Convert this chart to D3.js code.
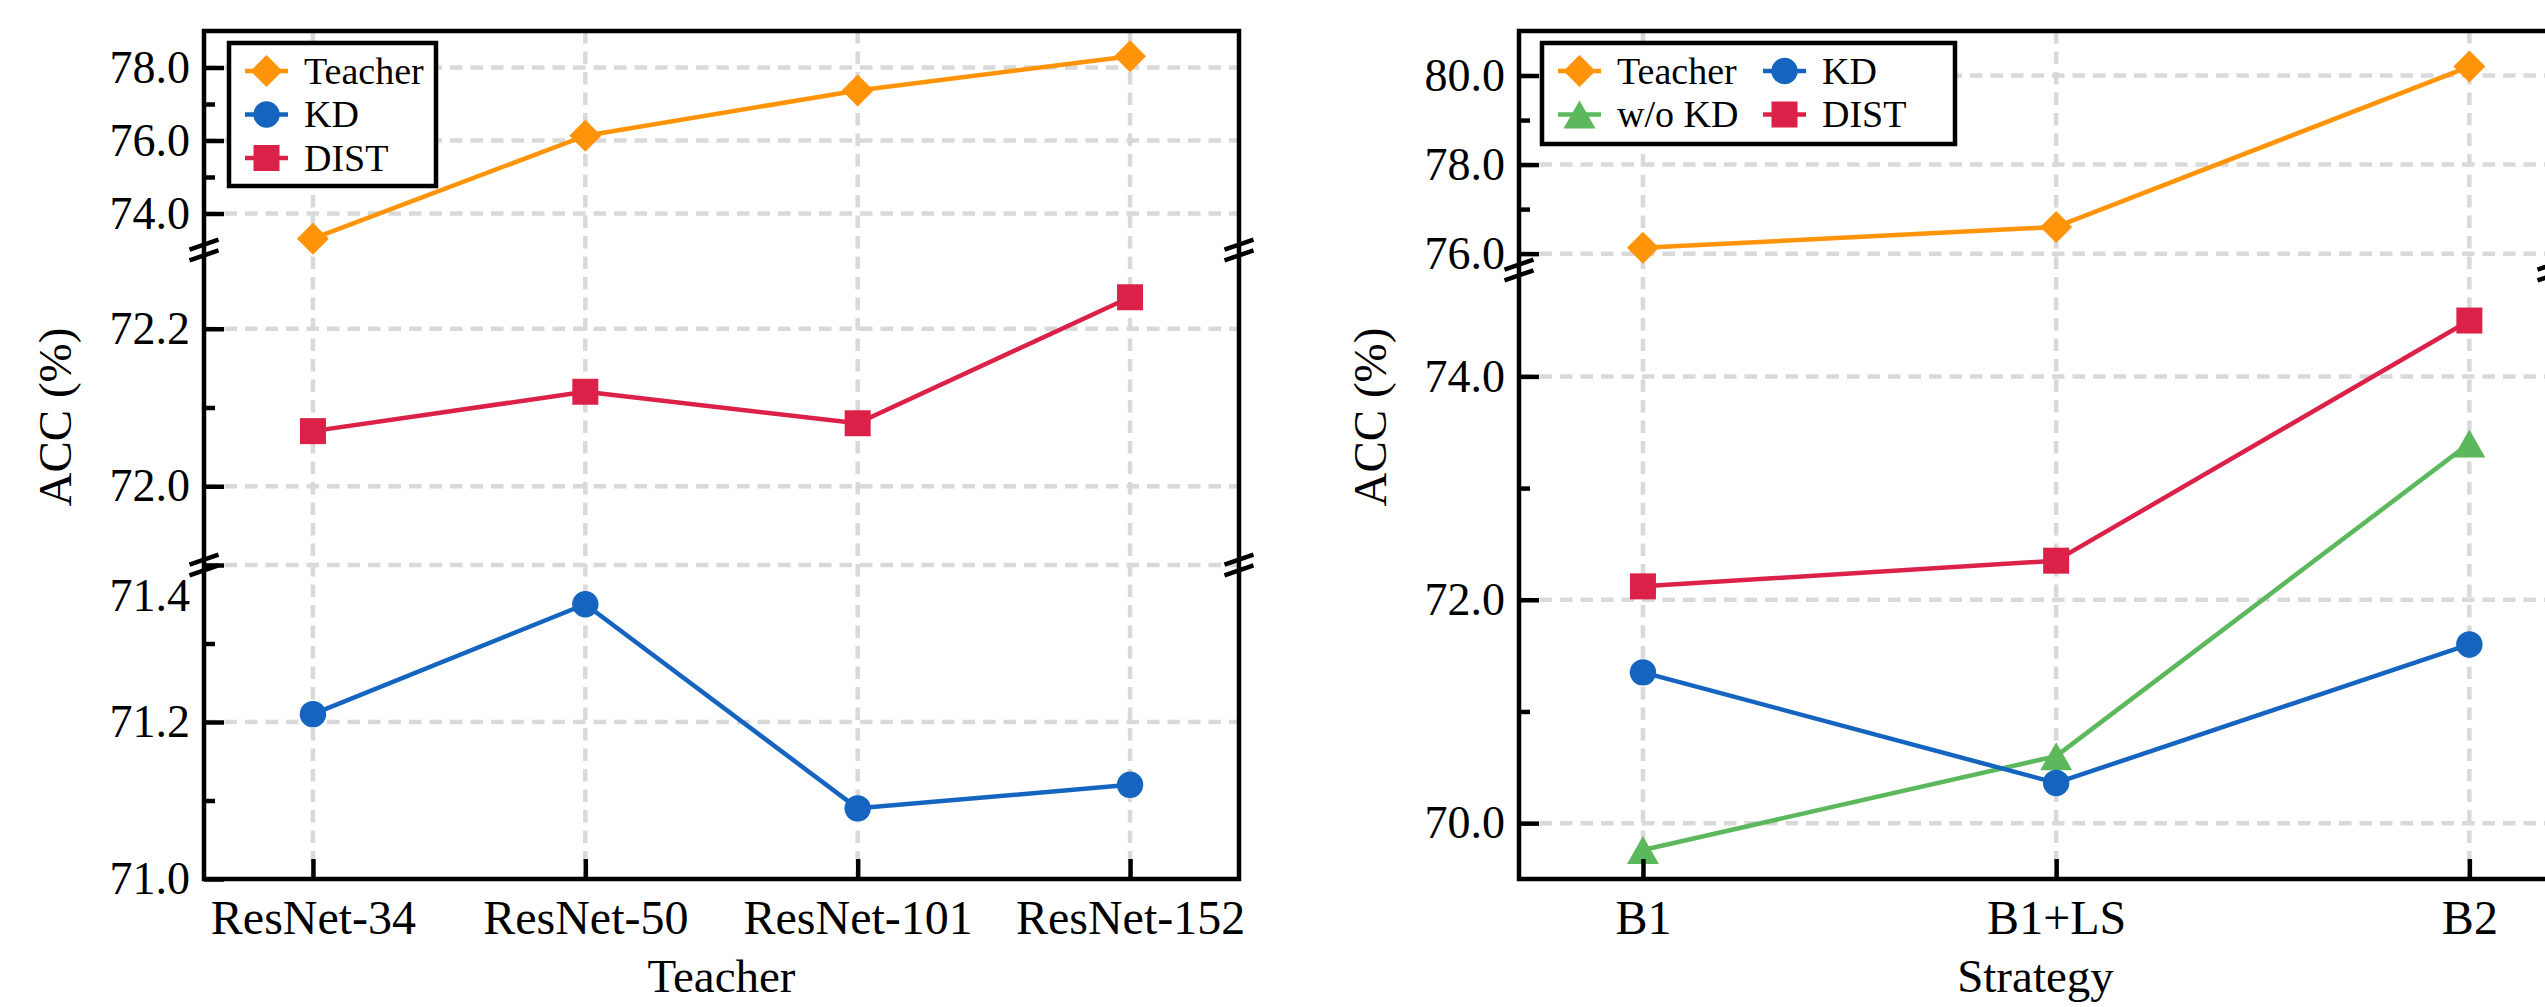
<!DOCTYPE html>
<html>
<head>
<meta charset="utf-8">
<title>ACC vs Teacher / Strategy</title>
<style>
  html, body { margin: 0; padding: 0; background: #fff; }
  svg { display: block; }
  text { font-family: "Liberation Serif", "DejaVu Serif", serif; fill: #000; }
</style>
</head>
<body>
<svg id="svg" width="2545" height="1007" font-family="Liberation Serif, serif"></svg>

<script src="https://d3js.org/d3.v7.min.js"></script>
<script>
// ---- data, left panel (teacher size) ----
const teachers = ['ResNet-34', 'ResNet-50', 'ResNet-101', 'ResNet-152']
const teacherAcc = [73.31, 76.13, 77.37, 78.31]
const kdAcc = [71.21, 71.35, 71.09, 71.12]
const distAcc = [72.07, 72.12, 72.08, 72.24]

// ---- data, right panel (training strategy) ----
const strategies = ['B1', 'B1+LS', 'B2']
const stratTeacher = [76.13, 76.6, 80.2]
const stratNoKD = [69.76, 70.6, 73.4]
const stratKD = [71.35, 70.36, 71.6]
const stratDist = [72.12, 72.35, 74.5]

// broken y axis pieces: value ranges and tick values
const leftDomains = [[73, 79], [71.9, 72.3], [71.0, 71.4]]
const leftMajor = [[74, 76, 78], [72.0, 72.2], [71.0, 71.2, 71.4]]
const leftMinor = [[75, 77], [72.1], [71.1, 71.3]]

const rightDomains = [[75.7, 81], [69.5, 74.93]]
const rightMajor = [[76, 78, 80], [70, 72, 74]]
const rightMinor = [[77, 79], [71, 73]]

const colors = { teacher: '#ff9408', kd: '#1565c0', dist: '#dc2149', nokd: '#5cb85c' }
const FONT = '"Liberation Serif", "DejaVu Serif", serif'

const svg = d3.select('#svg')

function markerPath(type) {
    if (type === 'diamond') return 'M0,-16L16,0L0,16L-16,0Z'
    if (type === 'square') return 'M-13,-13H13V13H-13Z'
    if (type === 'triangle') return 'M0,-14L16,14L-16,14Z'
    return d3.symbol(d3.symbolCircle, Math.PI * 13.2 * 13.2)()
}

function drawPanel(p) {
    const g = svg.append('g')
    const x = d3.scaleLinear().domain(p.xDomain).range([p.x0, p.x1])
    const segs = p.domains.map((dom, i) => ({
        scale: d3.scaleLinear().domain(dom).range(p.ranges[i]),
        dom: dom, major: p.major[i], minor: p.minor[i]
    }))
    const segFor = v => segs.find(s => v >= s.dom[0] && v <= s.dom[1])

    // grid
    const grid = g.append('g')
        .attr('stroke', '#d9d9d9').attr('stroke-width', 4.5)
        .attr('stroke-dasharray', '12.5,8')
    segs.forEach(s => {
        s.major.filter(v => Math.abs(s.scale(v) - p.y1) > 2).forEach(v => {
            grid.append('line')
                .attr('x1', p.x0).attr('x2', p.x1)
                .attr('y1', s.scale(v)).attr('y2', s.scale(v))
        })
    })
    p.cats.forEach((c, i) => {
        grid.append('line')
            .attr('x1', x(i)).attr('x2', x(i))
            .attr('y1', p.y0).attr('y2', p.y1)
    })

    // series
    p.series.forEach(s => {
        const seg = segFor(s.values[0])
        const line = d3.line().x((d, i) => x(i)).y(d => seg.scale(d))
        g.append('path')
            .attr('d', line(s.values))
            .attr('fill', 'none')
            .attr('stroke', s.color)
            .attr('stroke-width', 4.5)
            .attr('stroke-linejoin', 'round')
        g.selectAll(null)
            .data(s.values)
            .join('path')
            .attr('d', markerPath(s.marker))
            .attr('transform', (d, i) => `translate(${x(i)},${seg.scale(d)})`)
            .attr('fill', s.color)
    })

    // y ticks
    segs.forEach(s => {
        const major = g.append('g')
            .attr('transform', `translate(${p.x0},0)`)
            .call(d3.axisLeft(s.scale).tickValues(s.major).tickSize(-20)
                .tickPadding(14).tickFormat(d3.format('.1f')))
        major.attr('font-family', FONT)
        major.select('.domain').remove()
        major.selectAll('line').attr('stroke-width', 4.5)
        major.selectAll('text')
            .attr('font-size', 46)
            .attr('font-family', FONT)
        if (p.shiftLabel) {
            major.selectAll('.tick text')
                .filter(d => d === p.shiftLabel)
                .attr('y', 31)
        }

        const minor = g.append('g')
            .attr('transform', `translate(${p.x0},0)`)
            .call(d3.axisLeft(s.scale).tickValues(s.minor).tickSize(-11).tickFormat(''))
        minor.select('.domain').remove()
        minor.selectAll('line').attr('stroke-width', 4.5)
    })

    // x ticks
    const xa = g.append('g')
        .attr('transform', `translate(0,${p.y1})`)
        .call(d3.axisBottom(x).tickValues(d3.range(p.cats.length)).tickSize(-20)
            .tickPadding(21).tickFormat(i => p.cats[i]))
    xa.attr('font-family', FONT)
    xa.select('.domain').remove()
    xa.selectAll('line').attr('stroke-width', 4.5)
    xa.selectAll('text')
        .attr('font-size', 48)
        .attr('font-family', FONT)

    // frame
    g.append('rect')
        .attr('x', p.x0).attr('y', p.y0)
        .attr('width', p.x1 - p.x0).attr('height', p.y1 - p.y0)
        .attr('fill', 'none').attr('stroke', '#000').attr('stroke-width', 4.5)

    // break marks
    p.breaks.forEach(by => {
        [p.x0, p.x1].forEach(bx => {
            [-5.4, 5.4].forEach(off => {
                g.append('line')
                    .attr('x1', bx - 14.5).attr('y1', by + off + 5)
                    .attr('x2', bx + 14.5).attr('y2', by + off - 5)
                    .attr('stroke', '#000').attr('stroke-width', 4.5)
            })
        })
    })

    // axis titles
    g.append('text')
        .attr('x', (p.x0 + p.x1) / 2).attr('y', 992)
        .attr('text-anchor', 'middle').attr('font-size', 47)
        .attr('font-family', FONT)
        .text(p.xTitle)
    g.append('text')
        .attr('transform', `translate(${p.x0 - 133},417) rotate(-90)`)
        .attr('text-anchor', 'middle').attr('font-size', 47)
        .attr('font-family', FONT)
        .text('ACC (%)')

    // legend
    const lg = g.append('g')
    lg.append('rect')
        .attr('x', p.legend.x).attr('y', p.legend.y)
        .attr('width', p.legend.w).attr('height', p.legend.h)
        .attr('fill', '#fff').attr('stroke', '#000').attr('stroke-width', 4.5)
    p.legend.items.forEach(it => {
        const s = p.series.find(d => d.name === it.name)
        const lx = p.legend.x + 16 + it.col * 205
        const ly = p.legend.y + 28 + it.row * 43.5
        lg.append('line')
            .attr('x1', lx).attr('x2', lx + 43)
            .attr('y1', ly).attr('y2', ly)
            .attr('stroke', s.color).attr('stroke-width', 4.5)
        lg.append('path')
            .attr('d', markerPath(s.marker))
            .attr('transform', `translate(${lx + 21.5},${ly})`)
            .attr('fill', s.color)
        lg.append('text')
            .attr('x', lx + 59).attr('y', ly)
            .attr('dy', '0.34em')
            .attr('font-size', 38)
            .attr('font-family', FONT)
            .text(s.name)
    })
}

drawPanel({
    x0: 204, x1: 1239, y0: 31, y1: 879,
    xDomain: [-0.4, 3.4],
    cats: teachers,
    domains: leftDomains, major: leftMajor, minor: leftMinor,
    ranges: [[250, 31], [565, 250], [879, 565]],
    breaks: [250, 565],
    shiftLabel: 71.4,
    xTitle: 'Teacher',
    series: [
        { name: 'Teacher', values: teacherAcc, color: colors.teacher, marker: 'diamond' },
        { name: 'KD', values: kdAcc, color: colors.kd, marker: 'circle' },
        { name: 'DIST', values: distAcc, color: colors.dist, marker: 'square' }
    ],
    legend: {
        x: 229, y: 43, w: 207, h: 143,
        items: [
            { name: 'Teacher', col: 0, row: 0 },
            { name: 'KD', col: 0, row: 1 },
            { name: 'DIST', col: 0, row: 2 }
        ]
    }
})

drawPanel({
    x0: 1519, x1: 2552, y0: 31, y1: 879,
    xDomain: [-0.3, 2.2],
    cats: strategies,
    domains: rightDomains, major: rightMajor, minor: rightMinor,
    ranges: [[267, 31], [879, 272.5]],
    breaks: [270],
    xTitle: 'Strategy',
    series: [
        { name: 'Teacher', values: stratTeacher, color: colors.teacher, marker: 'diamond' },
        { name: 'w/o KD', values: stratNoKD, color: colors.nokd, marker: 'triangle' },
        { name: 'KD', values: stratKD, color: colors.kd, marker: 'circle' },
        { name: 'DIST', values: stratDist, color: colors.dist, marker: 'square' }
    ],
    legend: {
        x: 1542, y: 43, w: 413, h: 101,
        items: [
            { name: 'Teacher', col: 0, row: 0 },
            { name: 'KD', col: 1, row: 0 },
            { name: 'w/o KD', col: 0, row: 1 },
            { name: 'DIST', col: 1, row: 1 }
        ]
    }
})
</script>
</body>
</html>
